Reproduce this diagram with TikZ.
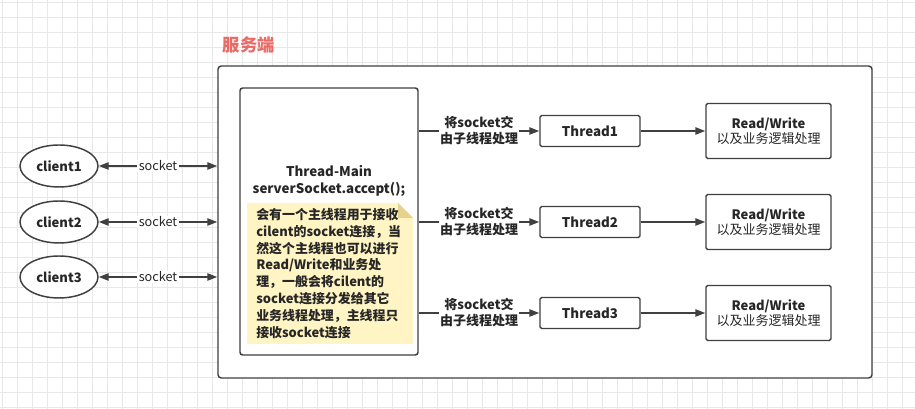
\documentclass[tikz,border=0pt]{standalone}
\usepackage{fontspec}
\setmainfont{Noto Sans CJK SC}
\usetikzlibrary{arrows.meta,shapes.geometric}
\definecolor{ln}{RGB}{64,64,64}
\definecolor{notec}{RGB}{255,244,195}
\definecolor{foldc}{RGB}{230,210,140}
\definecolor{titlec}{RGB}{234,107,102}
\definecolor{gridc}{RGB}{232,232,232}
\begin{document}
\begin{tikzpicture}[x=0.75pt,y=-0.75pt,
  txt/.style={font=\fontsize{9.75}{11.5}\selectfont, text=black!85},
  box/.style={draw=ln, line width=1.1pt, rounded corners=1.2pt, fill=white, inner sep=0pt, txt},
  cli/.style={ellipse, draw=ln, line width=1.1pt, fill=white, minimum width=58.5pt, minimum height=31.5pt, inner sep=0pt, txt, font=\fontsize{9.75}{11}\selectfont\bfseries},
  conn/.style={draw=ln, line width=1.1pt},
  tip/.style={-{Triangle[length=7.5pt,width=5.5pt]}},
  dtip/.style={{Triangle[length=7.5pt,width=5.5pt]}-{Triangle[length=7.5pt,width=5.5pt]}},
  lbl/.style={fill=white, inner sep=1pt, txt, align=center}]
\useasboundingbox (0,0) rectangle (915,409);
\fill[white] (0,0) rectangle (915,409);
\foreach \g in {2,17,...,917} {\draw[gridc, line width=0.5pt] (\g,0) -- (\g,409);}
\foreach \g in {2,17,...,407} {\draw[gridc, line width=0.5pt] (0,\g) -- (915,\g);}

\node[anchor=west, text=titlec, font=\fontsize{13}{15}\selectfont\bfseries] (title) at (218,45) {服务端};

\node[box, rounded corners=2.5pt, minimum width=490.5pt, minimum height=234pt] (server) at (545,222) {};

\node[box, rounded corners=2pt, minimum width=133.5pt, minimum height=200.25pt] (main) at (329,221.5) {};
\node[txt, font=\fontsize{10}{12.2}\selectfont\bfseries, align=center] (mainlbl) at (329,181) {Thread-Main\\serverSocket.accept();};

\fill[notec] (247,203) -- (398,203) -- (413,218) -- (413,344) -- (247,344) -- cycle;
\fill[foldc] (398,203) -- (413,218) -- (398,218) -- cycle;
\node[anchor=north west, align=left, inner sep=0pt, txt, font=\fontsize{9.7}{12.6}\selectfont\bfseries] (note) at (256,208)
 {会有一个主线程用于接收\\cilent的socket连接，当\\然这个主线程也可以进行\\Read/Write和业务处\\理，一般会将cilent的\\socket连接分发给其它\\业务线程处理，主线程只\\接收socket连接};

\node[cli] (c1) at (59,166) {client1};
\node[cli] (c2) at (59,222) {client2};
\node[cli] (c3) at (59,277) {client3};
\foreach \c in {c1,c2,c3} {
  \draw[conn, dtip] (\c) -- (\c -| server.west) node[midway, lbl, font=\fontsize{9.5}{11}\selectfont] {socket};
}

\node[box, minimum width=75pt, minimum height=23.25pt, font=\fontsize{10}{11}\selectfont\bfseries] (t1) at (590,131) {Thread1};
\node[box, minimum width=75pt, minimum height=23.25pt, font=\fontsize{10}{11}\selectfont\bfseries] (t2) at (590,222) {Thread2};
\node[box, minimum width=75pt, minimum height=23.25pt, font=\fontsize{10}{11}\selectfont\bfseries] (t3) at (590,313) {Thread3};

\node[box, minimum width=93.75pt, minimum height=41.25pt, align=center] (rw1) at (768.5,131) {\textbf{Read/Write}\\以及业务逻辑处理};
\node[box, minimum width=93.75pt, minimum height=41.25pt, align=center] (rw2) at (768.5,222) {\textbf{Read/Write}\\以及业务逻辑处理};
\node[box, minimum width=93.75pt, minimum height=41.25pt, align=center] (rw3) at (768.5,313) {\textbf{Read/Write}\\以及业务逻辑处理};

\foreach \t in {t1,t2,t3} {
  \draw[conn, tip] (main.east |- \t) -- (\t.west) node[midway, lbl, font=\fontsize{9.75}{12}\selectfont\bfseries] {将socket交\\由子线程处理};
}
\draw[conn, tip] (t1) -- (rw1);
\draw[conn, tip] (t2) -- (rw2);
\draw[conn, tip] (t3) -- (rw3);
\end{tikzpicture}
\end{document}
